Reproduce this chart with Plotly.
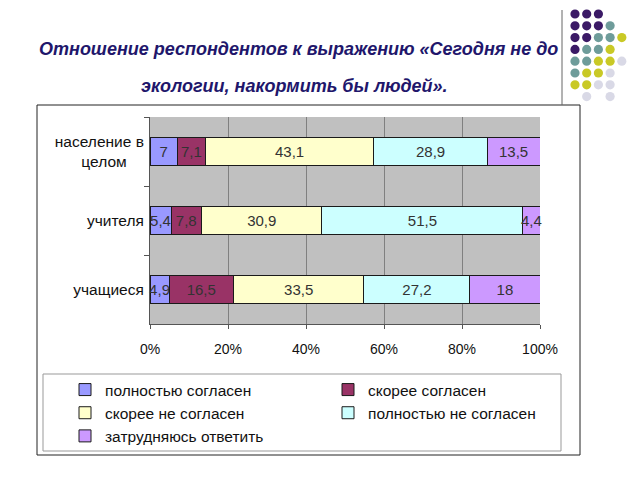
import plotly.graph_objects as go

# ---- data ----
categories = ["население в<br>целом\u00a0\u00a0\u00a0\u00a0", "учителя", "учащиеся"]
series_names = ["полностью согласен", "скорее согласен", "скорее не согласен",
                "полностью не согласен", "затрудняюсь ответить"]
fully_agree = [7, 5.4, 4.9]
rather_agree = [7.1, 7.8, 16.5]
rather_disagree = [43.1, 30.9, 33.5]
fully_disagree = [28.9, 51.5, 27.2]
hard_to_say = [13.5, 4.4, 18]
x_ticks = [0, 20, 40, 60, 80, 100]
x_tick_labels = [f"{v}%" for v in x_ticks]

series_values = [fully_agree, rather_agree, rather_disagree, fully_disagree, hard_to_say]
colors = ["#9999FF", "#993366", "#FFFFCC", "#CCFFFF", "#CC99FF"]

title_line1 = "Отношение респондентов к выражению «Сегодня не до"
title_line2 = "экологии, накормить бы людей»."

FONT = "Liberation Sans, Arial, sans-serif"

# layout geometry (pixels)
W, H = 640, 480
L, R, T, B = 150, 100, 117, 156
PW, PH = W - L - R, H - T - B


def px(x):
    return (x - L) / PW


def py(y):
    return (H - B - y) / PH


fig = go.Figure()
for name, vals, col in zip(series_names, series_values, colors):
    fig.add_trace(go.Bar(
        y=categories, x=vals, name=name, orientation="h",
        marker=dict(color=col, line=dict(color="#1a1a1a", width=1)),
        text=[f"{v:g}".replace(".", ",") for v in vals],
        textposition="inside", insidetextanchor="middle", textangle=0,
        textfont=dict(size=15, color="#333333", family=FONT),
        cliponaxis=False,
    ))

shapes = []
# outer chart frame
shapes.append(dict(type="rect", xref="paper", yref="paper",
                   x0=px(37), x1=px(580), y0=py(455), y1=py(105),
                   line=dict(color="#222222", width=1), fillcolor="rgba(0,0,0,0)",
                   layer="below"))
# legend frame
shapes.append(dict(type="rect", xref="paper", yref="paper",
                   x0=px(43), x1=px(561), y0=py(451), y1=py(374),
                   line=dict(color="#999999", width=1), fillcolor="rgba(0,0,0,0)"))
# decorative vertical line
shapes.append(dict(type="line", xref="paper", yref="paper",
                   x0=px(562), x1=px(562), y0=py(10), y1=py(105),
                   line=dict(color="#666666", width=1)))

# decorative dots
dot_rows = ["PPP", "PPPT", "PPTTY", "PTTY", "TTYYL", "TYYL", "YYLL", ".L.L"]
dot_cols = {"P": "#3B1A66", "T": "#6E9C9A", "Y": "#C9C926", "L": "#D9D9E6"}
rad = 4.6
for r, row in enumerate(dot_rows):
    for c, ch in enumerate(row):
        if ch == ".":
            continue
        cx = 575 + 11.7 * c
        cy = 14 + 11.8 * r
        shapes.append(dict(type="circle", xref="paper", yref="paper",
                           x0=px(cx - rad), x1=px(cx + rad),
                           y0=py(cy + rad), y1=py(cy - rad),
                           fillcolor=dot_cols[ch], line=dict(width=0)))

title_font = dict(family=FONT, size=18, color="#21166B", weight="bold", style="italic")
annotations = [
    dict(text=title_line1, xref="paper", yref="paper", x=px(298), y=py(49),
         xanchor="center", yanchor="middle", showarrow=False, font=title_font),
    dict(text=title_line2, xref="paper", yref="paper", x=px(294), y=py(86),
         xanchor="center", yanchor="middle", showarrow=False, font=title_font),
]

fig.update_layout(
    width=W, height=H,
    margin=dict(l=L, r=R, t=T, b=B, autoexpand=False),
    barmode="stack", barnorm="percent", bargap=0.59,
    paper_bgcolor="white", plot_bgcolor="#C0C0C0",
    font=dict(family=FONT, size=15.5, color="#111111"),
    showlegend=True,
    legend=dict(orientation="h", traceorder="normal",
                x=px(65), y=py(373), xanchor="left", yanchor="top",
                entrywidth=218, entrywidthmode="pixels",
                font=dict(family=FONT, size=15.5, color="#111111"),
                bgcolor="rgba(0,0,0,0)", borderwidth=0),
    uniformtext=dict(minsize=15, mode="show"),
    shapes=shapes, annotations=annotations,
    xaxis=dict(range=[0, 100], tickvals=x_ticks, ticktext=x_tick_labels,
               tickfont=dict(size=14),
               showgrid=True, gridcolor="#808080", gridwidth=1,
               showline=True, linecolor="#555555", linewidth=1,
               ticks="outside", ticklen=4, tickcolor="#555555",
               ticklabelstandoff=8, zeroline=False, fixedrange=True),
    yaxis=dict(autorange="reversed", showline=True, linecolor="#555555",
               linewidth=1, ticks="outside", ticklen=5, tickcolor="#555555",
               tickson="boundaries", showgrid=False, ticklabelstandoff=2),
)

fig.write_html("out.html", config={"displayModeBar": False},
               post_script="document.body.style.margin='0';")
